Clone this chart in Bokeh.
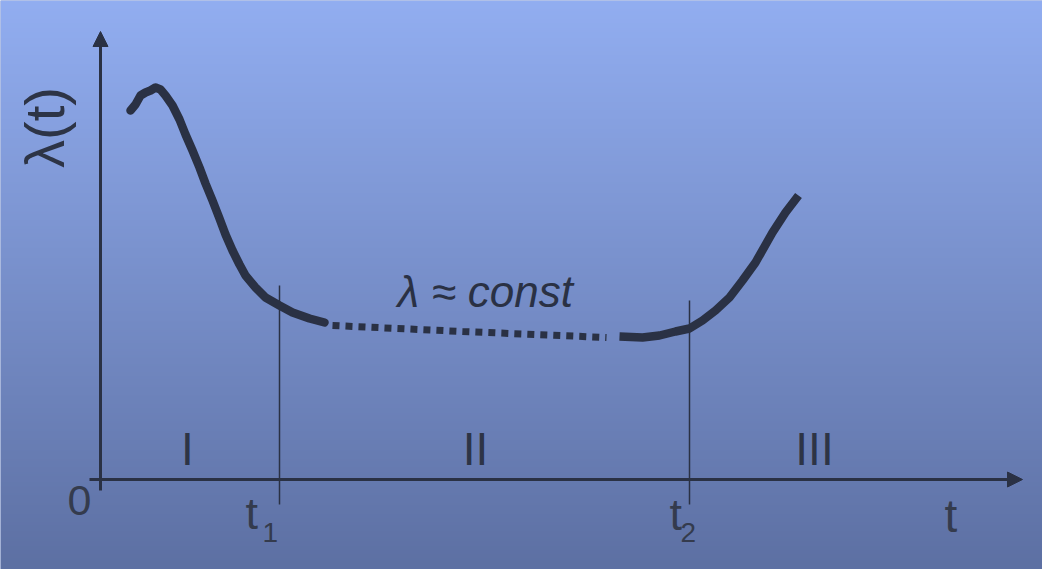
import numpy as np
from bokeh.plotting import figure
from bokeh.models import Range1d, Label, Arrow, NormalHead, ColumnDataSource
from bokeh.embed import file_html
from bokeh.resources import INLINE

# ---- data (t, lambda) ----
early_t = [0.30, 0.35, 0.40, 0.45, 0.50, 0.55, 0.60, 0.65, 0.72, 0.79, 0.85, 0.92, 0.99, 1.05, 1.12,
           1.19, 1.25, 1.32, 1.39, 1.45, 1.55, 1.65, 1.79, 1.92, 2.09, 2.24]
early_l = [3.69, 3.75, 3.84, 3.87, 3.89, 3.92, 3.90, 3.84, 3.74, 3.60, 3.45, 3.29, 3.12, 2.96, 2.79,
           2.61, 2.45, 2.29, 2.15, 2.04, 1.92, 1.82, 1.74, 1.67, 1.61, 1.57]
const_t = [2.32, 3.62, 5.06]
const_l = [1.54, 1.48, 1.42]
wear_t = [5.19, 5.42, 5.59, 5.75, 5.89, 6.02, 6.15, 6.29, 6.42, 6.55, 6.72, 6.85, 6.98]
wear_l = [1.43, 1.42, 1.44, 1.48, 1.51, 1.59, 1.69, 1.82, 1.99, 2.17, 2.47, 2.67, 2.84]
boundaries = [1.79, 5.89]          # t1, t2
boundary_tops = [1.94, 1.79]
region_labels = ["I", "II", "III"]
region_centers = [0.87, 3.75, 7.14]

INK = "#2a3144"
SOFT = "#343b4d"

p = figure(width=1042, height=569, x_range=Range1d(-1.00, 9.42), y_range=Range1d(-0.90, 4.79),
           output_backend="svg", toolbar_location=None, min_border=0)
p.axis.visible = False
p.grid.visible = False
p.outline_line_color = None
p.background_fill_color = "#7890cc"
p.border_fill_color = "#7890cc"

# vertical gradient background
H = 300
top = np.array([146, 174, 241], dtype=float)
bot = np.array([93, 112, 163], dtype=float)
img = np.empty((H, 2), dtype=np.uint32)
view = img.view(dtype=np.uint8).reshape((H, 2, 4))
for i in range(H):
    f = i / (H - 1)  # row 0 is bottom
    c = bot + (top - bot) * f
    view[i, :, 0] = int(c[0]); view[i, :, 1] = int(c[1]); view[i, :, 2] = int(c[2]); view[i, :, 3] = 255
p.image_rgba(image=[img], x=-1.00, y=-0.90, dw=10.42, dh=5.69)

# axes with arrows
p.add_layout(Arrow(end=NormalHead(size=15, fill_color=INK, line_color=INK),
                   x_start=0, y_start=-0.11, x_end=0, y_end=4.48, line_color=INK, line_width=3))
p.add_layout(Arrow(end=NormalHead(size=15, fill_color=INK, line_color=INK),
                   x_start=-0.11, y_start=0, x_end=9.22, y_end=0, line_color=INK, line_width=3))

# boundary lines t1, t2
src = ColumnDataSource(dict(x0=boundaries, y0=[-0.25, -0.25], x1=boundaries, y1=boundary_tops))
p.segment(x0="x0", y0="y0", x1="x1", y1="y1", source=src, line_color=INK, line_width=1.5)

# curve
p.line(early_t, early_l, line_color=INK, line_width=8.5, line_cap="round", line_join="round")
p.line(const_t, const_l, line_color=INK, line_width=7, line_dash="7 6")
p.line(wear_t, wear_l, line_color=INK, line_width=8.5, line_cap="butt", line_join="round")

FONT = "Liberation Sans"
def lab(x, y, text, size, align="center", baseline="middle", angle=0, style="normal", color=INK):
    p.add_layout(Label(x=x, y=y, text=text, text_font=FONT, text_font_size=f"{size}px",
                       text_align=align, text_baseline=baseline, angle=angle,
                       text_font_style=style, text_color=color))

for name, cx in zip(region_labels, region_centers):
    lab(cx, 0.31, name, 46, color="#2d3446")

lab(-0.21, -0.21, "0", 43, color=SOFT)
lab(1.45, -0.34, "t", 45, align="left", color=SOFT)
lab(1.62, -0.53, "1", 28, align="left", color=SOFT)
lab(5.69, -0.35, "t", 45, align="left", color=SOFT)
lab(5.80, -0.53, "2", 28, align="left", color=SOFT)
lab(8.44, -0.36, "t", 46, align="left", color=SOFT)
lab(-0.56, 3.52, "λ(t)", 56, angle=np.pi / 2, color="#2d3446")
lab(2.97, 1.88, "λ ≈ const", 44, align="left", style="italic")

open("out.html", "w").write(file_html(p, INLINE))
